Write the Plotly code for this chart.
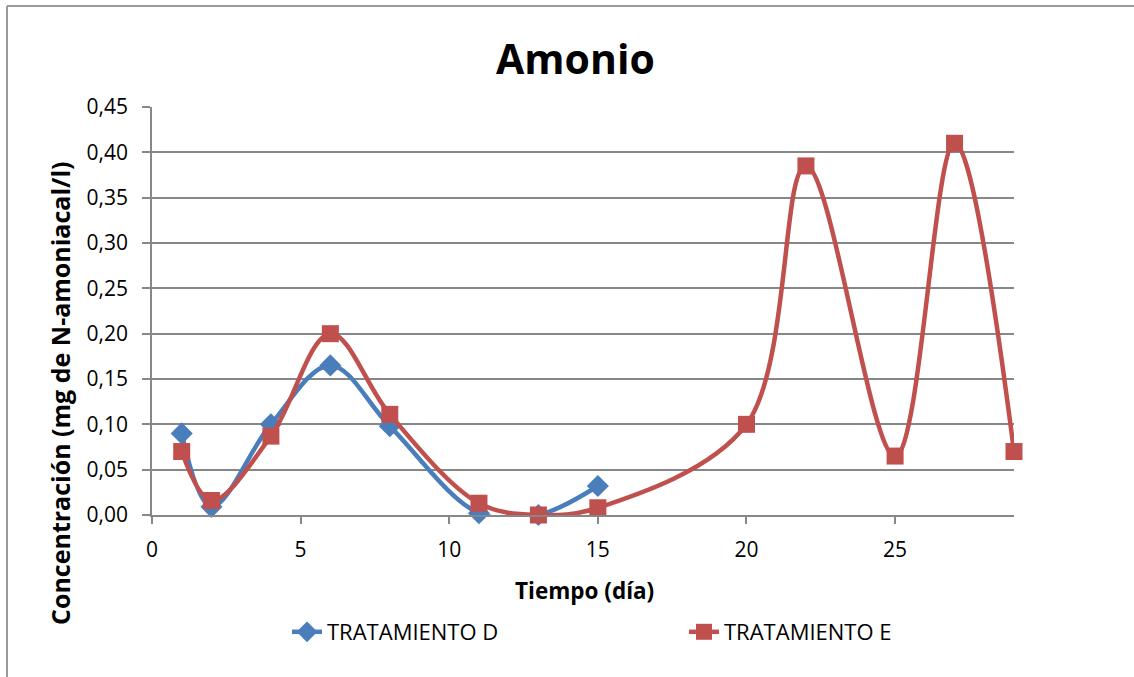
import plotly.graph_objects as go

# Sampling days and ammonium concentrations (mg N-amoniacal/l)
dias_d = [1, 2, 4, 6, 8, 11, 13, 15]
amonio_d = [0.090, 0.009, 0.100, 0.165, 0.098, 0.002, 0.000, 0.032]

dias_e = [1, 2, 4, 6, 8, 11, 13, 15, 20, 22, 25, 27, 29]
amonio_e = [0.070, 0.016, 0.087, 0.200, 0.111, 0.013, 0.000, 0.008,
            0.100, 0.385, 0.065, 0.410, 0.070]

y_ticks = [0, 0.05, 0.10, 0.15, 0.20, 0.25, 0.30, 0.35, 0.40, 0.45]
x_ticks = [0, 5, 10, 15, 20, 25]

FONT = "Open Sans"
AZUL = "#4A7EBB"
ROJO = "#C0504D"
GRIS = "#878787"

W, H = 1134, 677
L, R, T, B = 152, 1014, 107, 515   # plot-area edges in pixels


def px_x(px):
    return (px - L) / (R - L)


def px_y(py):
    return (B - py) / (B - T)


fig = go.Figure()

fig.add_trace(go.Scatter(
    x=dias_d, y=amonio_d, name="TRATAMIENTO D",
    mode="lines+markers",
    line=dict(color=AZUL, width=4.5, shape="spline", smoothing=1),
    marker=dict(symbol="diamond", size=17, color=AZUL),
    cliponaxis=False,
))

fig.add_trace(go.Scatter(
    x=dias_e, y=amonio_e, name="TRATAMIENTO E",
    mode="lines+markers",
    line=dict(color=ROJO, width=4.5, shape="spline", smoothing=1),
    marker=dict(symbol="square", size=17, color=ROJO),
    cliponaxis=False,
))

fig.update_layout(
    width=W, height=H,
    margin=dict(l=L, r=W - R, t=T, b=H - B),
    paper_bgcolor="white",
    plot_bgcolor="white",
    separators=", ",
    font=dict(family=FONT, size=21, color="black"),
    showlegend=True,
    legend=dict(
        orientation="h",
        x=px_x(287), y=px_y(632),
        xanchor="left", yanchor="middle",
        entrywidth=352,
        font=dict(family=FONT, size=22, color="black"),
        bgcolor="rgba(0,0,0,0)",
    ),
    xaxis=dict(
        range=[0, 29],
        tickvals=x_ticks,
        showgrid=False,
        zeroline=False,
        showline=True, linecolor=GRIS, linewidth=1.5,
        ticks="outside", ticklen=7, tickcolor=GRIS, tickwidth=1.5,
        ticklabelstandoff=8,
        tickfont=dict(family=FONT, size=21),
    ),
    yaxis=dict(
        range=[0, 0.45],
        tickvals=y_ticks,
        tickformat=".2f",
        showgrid=True, gridcolor=GRIS, gridwidth=1.5,
        zeroline=False,
        showline=True, linecolor=GRIS, linewidth=1.5,
        ticks="outside", ticklen=8, tickcolor=GRIS, tickwidth=1.5,
        ticklabelstandoff=10,
        tickfont=dict(family=FONT, size=21),
    ),
)

# Title and axis titles
fig.add_annotation(
    text="<b>Amonio</b>", xref="paper", yref="paper",
    x=px_x(575), y=px_y(58), xanchor="center", yanchor="middle",
    showarrow=False, font=dict(family=FONT, size=41, color="black"),
)
fig.add_annotation(
    text="<b>Tiempo (día)</b>", xref="paper", yref="paper",
    x=px_x(584), y=px_y(590), xanchor="center", yanchor="middle",
    showarrow=False, font=dict(family=FONT, size=22.5, color="black"),
)
fig.add_annotation(
    text="<b>Concentración (mg de N-amoniacal/l)</b>", xref="paper", yref="paper",
    x=px_x(60), y=px_y(394), xanchor="center", yanchor="middle",
    textangle=-90,
    showarrow=False, font=dict(family=FONT, size=25, color="black"),
)

# Chart frame (top and left edges)
fig.add_shape(type="line", xref="paper", yref="paper",
              x0=px_x(7), y0=px_y(6), x1=px_x(1140), y1=px_y(6),
              line=dict(color="#9a9a9a", width=2))
fig.add_shape(type="line", xref="paper", yref="paper",
              x0=px_x(7), y0=px_y(6), x1=px_x(7), y1=px_y(690),
              line=dict(color="#9a9a9a", width=2))

fig.write_html("out.html")
